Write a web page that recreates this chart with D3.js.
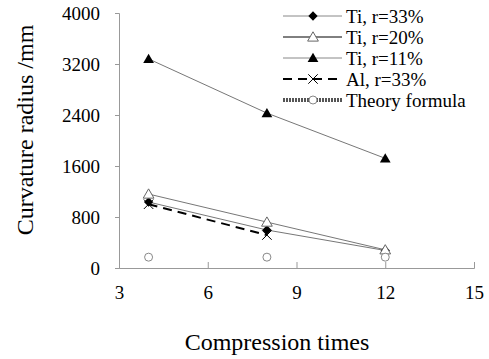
<!DOCTYPE html>
<html>
<head>
<meta charset="utf-8">
<script src="https://cdn.jsdelivr.net/npm/d3@7"></script>
<style>
body{margin:0;background:#fff;}
</style>
</head>
<body>
<div class="plot"></div>
<script>
// data
var times = [4, 8, 12];
var ti33 = [1035, 596, 275];
var ti20 = [1160, 720, 285];
var ti11 = [3280, 2430, 1720];
var al33 = [1000, 517];
var theory = [170, 170, 170];
var xTicks = [3, 6, 9, 12, 15];
var yTicks = [0, 800, 1600, 2400, 3200, 4000];
var names = ["Ti, r=33%", "Ti, r=20%", "Ti, r=11%", "Al, r=33%", "Theory formula"];

var FONT = "'Liberation Serif'";
var W = 489, H = 359;
var svg = d3.select('.plot').append('svg')
	.attr('width', W).attr('height', H);

var x = d3.scaleLinear().domain([3, 15]).range([119, 474]);
var y = d3.scaleLinear().domain([0, 4000]).range([268, 13]);
var axisCol = '#999';

// axes
var gx = svg.append('g').attr('transform', 'translate(0,' + y(0) + ')')
	.call(d3.axisBottom(x).tickValues(xTicks).tickSize(-6).tickPadding(18).tickFormat(d3.format('d')));
var gy = svg.append('g').attr('transform', 'translate(' + x(3) + ',0)')
	.call(d3.axisLeft(y).tickValues(yTicks).tickSize(4).tickPadding(15).tickFormat(d3.format('d')));
[gx, gy].forEach(function(g){
	g.attr('font-family', null).attr('font-size', null);
	g.select('.domain').attr('stroke', axisCol);
	g.selectAll('.tick line').attr('stroke', axisCol);
	g.selectAll('.tick text').attr('fill', '#000')
		.style('font-family', FONT).style('font-size', '19px');
});
gx.selectAll('.tick text').attr('dy', '0.71em');
gy.selectAll('.tick text').attr('dy', '0.35em');

svg.append('text').attr('x', 277).attr('y', 350).attr('text-anchor', 'middle')
	.style('font-family', FONT).style('font-size', '24px').text('Compression times');
svg.append('text').attr('transform', 'translate(33,130) rotate(-90)').attr('text-anchor', 'middle')
	.style('font-family', FONT).style('font-size', '24px').text('Curvature radius /mm');

var line = d3.line().x(function(d){ return x(d[0]); }).y(function(d){ return y(d[1]); });
function pts(vals){ return vals.map(function(v, i){ return [times[i], v]; }); }

var series = [
	{vals: ti33, stroke: '#777', width: 1, dash: null, sym: 'diamond'},
	{vals: ti20, stroke: '#777', width: 1, dash: null, sym: 'triOpen'},
	{vals: ti11, stroke: '#777', width: 1, dash: null, sym: 'tri'},
	{vals: al33, stroke: '#000', width: 2, dash: '9,6', sym: 'x'},
	{vals: theory, stroke: 'none', width: 0, dash: null, sym: 'circle'}
];

function marker(g, sym, cx, cy){
	if (sym === 'diamond') {
		g.append('path').attr('d', d3.symbol().type(d3.symbolDiamond2).size(55)())
			.attr('transform', 'translate(' + cx + ',' + cy + ')').attr('fill', '#000');
	} else if (sym === 'tri' || sym === 'triOpen') {
		g.append('path').attr('d', d3.symbol().type(d3.symbolTriangle).size(50)())
			.attr('transform', 'translate(' + cx + ',' + (cy + 1) + ')')
			.attr('fill', sym === 'tri' ? '#000' : '#fff')
			.attr('stroke', sym === 'tri' ? 'none' : '#666').attr('stroke-width', 1);
	} else if (sym === 'x') {
		g.append('path').attr('d', d3.symbol().type(d3.symbolX).size(60)())
			.attr('transform', 'translate(' + cx + ',' + cy + ')').attr('stroke', '#000').attr('stroke-width', 1).attr('fill', 'none');
	} else if (sym === 'circle') {
		g.append('circle').attr('cx', cx).attr('cy', cy).attr('r', 4)
			.attr('fill', '#fff').attr('stroke', '#888').attr('stroke-width', 1);
	}
}

series.forEach(function(s){
	var g = svg.append('g');
	if (s.stroke !== 'none') {
		g.append('path').datum(pts(s.vals)).attr('d', line)
			.attr('fill', 'none').attr('stroke', s.stroke).attr('stroke-width', s.width)
			.attr('stroke-dasharray', s.dash);
	}
	pts(s.vals).forEach(function(p){ marker(g, s.sym, x(p[0]), y(p[1])); });
});

// legend
var lg = svg.append('g').attr('transform', 'translate(283,16)');
names.forEach(function(n, i){
	var s = series[i], row = lg.append('g').attr('transform', 'translate(0,' + (i * 21) + ')');
	if (i === 4) {
		row.append('line').attr('x1', 0).attr('x2', 59).attr('y1', 0).attr('y2', 0)
			.attr('stroke', '#555').attr('stroke-width', 4).attr('stroke-dasharray', '2,1');
	} else {
		row.append('line').attr('x1', 0).attr('x2', 59).attr('y1', 0).attr('y2', 0)
			.attr('stroke', i === 1 || i === 3 ? '#000' : '#888').attr('stroke-width', i === 3 ? 2 : 1)
			.attr('stroke-dasharray', s.dash);
	}
	marker(row, s.sym, 30, 0);
	row.append('text').attr('x', 63).attr('y', 0).attr('dy', '0.35em')
		.style('font-family', FONT).style('font-size', '19px').text(n);
});
</script>
</body>
</html>
